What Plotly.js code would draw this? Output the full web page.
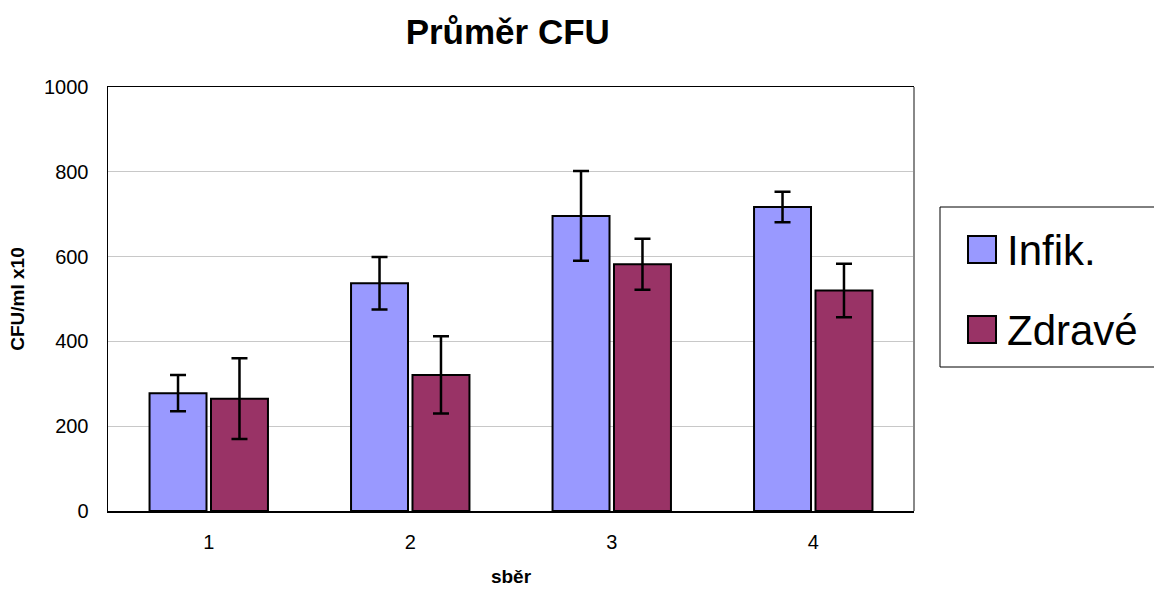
<!DOCTYPE html>
<html>
<head>
<meta charset="utf-8">
<script src="https://cdn.plot.ly/plotly-3.0.1.min.js"></script>
<style>html,body{margin:0;padding:0;background:#fff;}#chart{width:1154px;height:590px;}</style>
</head>
<body>
<div id="chart"></div>
<script>
// Data
var categories = ['1', '2', '3', '4'];
var seriesNames = ['Infik.', 'Zdravé'];
var infikValues = [278, 537, 696, 717];
var infikErrors = [43, 62, 106, 36];
var zdraveValues = [265, 321, 582, 520];
var zdraveErrors = [95, 91, 60, 63];
var yTicks = [0, 200, 400, 600, 800, 1000];

var colors = ['#9999FF', '#993366'];
var FONT = 'Arial, "Liberation Sans", Helvetica, sans-serif';

function barTrace(name, vals, errs, color) {
  return {
    type: 'bar', name: name, x: categories, y: vals,
    marker: {color: color, line: {color: '#000', width: 2}},
    error_y: {type: 'data', array: errs, visible: true, color: '#000', thickness: 2.5, width: 8},
    showlegend: false, hoverinfo: 'x+y+name'
  };
}

var data = [
  barTrace(seriesNames[0], infikValues, infikErrors, colors[0]),
  barTrace(seriesNames[1], zdraveValues, zdraveErrors, colors[1])
];

// plot area in pixels: x 108..914, y 87..511
var L = 108, R = 914, T = 87, B = 511, W = 1154, H = 590;
function px(x) { return (x - L) / (R - L); }
function py(y) { return (B - y) / (B - T); }

var shapes = [
  {type: 'line', xref: 'paper', yref: 'paper', x0: 1, x1: 1, y0: 0, y1: 1, line: {color: '#888', width: 2}},
  {type: 'rect', xref: 'paper', yref: 'paper', x0: px(940), x1: px(1160), y0: py(367), y1: py(207), line: {color: '#000', width: 1}, fillcolor: 'rgba(0,0,0,0)'},
  {type: 'rect', xref: 'paper', yref: 'paper', x0: px(968), x1: px(996), y0: py(263), y1: py(236), line: {color: '#000', width: 2}, fillcolor: colors[0]},
  {type: 'rect', xref: 'paper', yref: 'paper', x0: px(968), x1: px(996), y0: py(343), y1: py(316), line: {color: '#000', width: 2}, fillcolor: colors[1]}
];

var annotations = [
  {xref: 'paper', yref: 'paper', x: px(1005), y: py(250), xanchor: 'left', yanchor: 'middle', text: seriesNames[0], showarrow: false, font: {family: FONT, size: 42, color: '#000'}},
  {xref: 'paper', yref: 'paper', x: px(1005), y: py(330), xanchor: 'left', yanchor: 'middle', text: seriesNames[1], showarrow: false, font: {family: FONT, size: 42, color: '#000'}}
];

var layout = {
  width: W, height: H,
  margin: {l: L, r: W - R, t: T, b: H - B, pad: 0},
  paper_bgcolor: '#fff', plot_bgcolor: '#fff',
  font: {family: FONT, color: '#000'},
  title: {text: '<b>Průměr CFU</b>', font: {family: FONT, size: 35, color: '#000'}, x: 0.44, xref: 'container', xanchor: 'center', y: 1 - 32 / H, yref: 'container', yanchor: 'middle'},
  barmode: 'group', bargap: 0.39, bargroupgap: 0.073,
  showlegend: false,
  xaxis: {
    type: 'category', tickfont: {family: FONT, size: 20, color: '#000'},
    showline: true, linecolor: '#000', linewidth: 1.5, mirror: true, ticks: '', ticklabelstandoff: 12,
    showgrid: false, zeroline: false,
    title: {text: '<b>sběr</b>', font: {family: FONT, size: 19, color: '#000'}, standoff: 18}
  },
  yaxis: {
    range: [0, 1000], tickvals: yTicks, ticktext: yTicks.map(String),
    tickfont: {family: FONT, size: 20, color: '#000'},
    showline: true, linecolor: '#000', linewidth: 1.5, ticks: '', ticklabelstandoff: 14,
    showgrid: true, gridcolor: '#c8c8c8', gridwidth: 1, zeroline: false,
    title: {text: '<b>CFU/ml x10</b>', font: {family: FONT, size: 19, color: '#000'}, standoff: 14}
  },
  shapes: shapes, annotations: annotations
};

Plotly.newPlot('chart', data, layout, {displayModeBar: false, staticPlot: true});
</script>
</body>
</html>
